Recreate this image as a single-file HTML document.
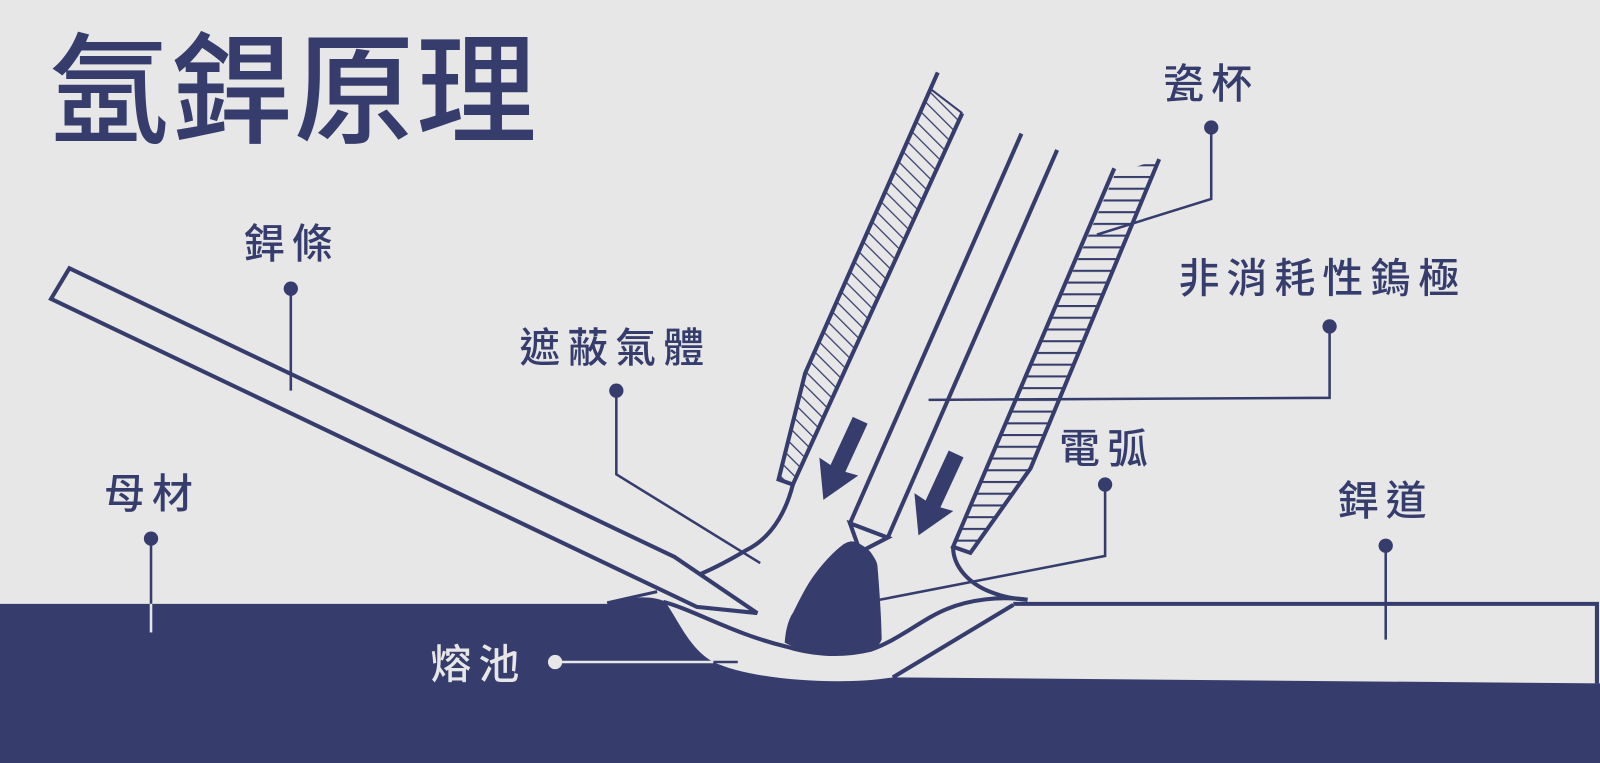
<!DOCTYPE html>
<html><head><meta charset="utf-8"><style>
html,body{margin:0;padding:0;background:#e7e7e7;}
svg{display:block}
text{font-family:"Liberation Sans","Noto Sans CJK TC",sans-serif;}
</style></head><body>
<svg width="1600" height="763" viewBox="0 0 1568 748" preserveAspectRatio="none" xmlns="http://www.w3.org/2000/svg">
<defs>
<pattern id="hd" patternUnits="userSpaceOnUse" width="10" height="10" patternTransform="rotate(-45)">
<line x1="0" y1="0" x2="0" y2="10" stroke="#363d6c" stroke-width="2.5"/>
</pattern>
<pattern id="hh" patternUnits="userSpaceOnUse" width="20" height="11.5">
<line x1="0" y1="1" x2="20" y2="1" stroke="#363d6c" stroke-width="2"/>
</pattern>
</defs>
<rect width="1568" height="748" fill="#e7e7e7"/>
<text x="48" y="131" font-size="118" font-weight="500" fill="#363d6c" letter-spacing="2">氬銲原理</text>

<path d="M0,592 L595,592 C612,585 640,583 652,590 C667,612 676,636 699,649 C740,668 830,672 875,664 L1568,670 L1568,748 L0,748 Z" fill="#363d6c"/>
<path d="M993,592 L1565,592 L1565,670" fill="none" stroke="#363d6c" stroke-width="4"/>
<line x1="875" y1="664" x2="993" y2="593" stroke="#363d6c" stroke-width="4"/>
<path d="M650,590 C680,598 720,622 771,634 C790,640 820,645 853,637 C880,628 905,606 928,597 C950,588 980,584 1007,588" fill="none" stroke="#363d6c" stroke-width="4"/>
<line x1="595" y1="591" x2="644" y2="580" stroke="#363d6c" stroke-width="3"/>

<path d="M50,293 L68,263 L661,546 L742,601 L683,595 Z" fill="#e7e7e7" stroke="#363d6c" stroke-width="4" stroke-linejoin="miter"/>

<path d="M913,88 L943,111 L777,475 L763,470 L789,366 Z" fill="url(#hd)"/>
<path d="M919,71 L789,366 L763,470 L777,475 L943,111" fill="none" stroke="#363d6c" stroke-width="4"/>
<line x1="913" y1="88" x2="943" y2="111" stroke="#363d6c" stroke-width="2"/>
<path d="M777,475 C772,495 760,525 732,539 C712,551 700,557 686,563" fill="none" stroke="#363d6c" stroke-width="4"/>

<path d="M1093,170 L1136,156 L1010,459 L951,542 L934,536 Z" fill="url(#hh)"/>
<path d="M1092,165 L934,536 L951,542 L1010,459 L1136,156" fill="none" stroke="#363d6c" stroke-width="4"/>
<path d="M934,536 C934,556 950,572 970,580 C985,586 995,587 1007,588" fill="none" stroke="#363d6c" stroke-width="4"/>

<line x1="1001" y1="131" x2="833" y2="513" stroke="#363d6c" stroke-width="4"/>
<line x1="1036" y1="147" x2="870" y2="527" stroke="#363d6c" stroke-width="4"/>
<path d="M833,513 L870,527 L843,541 Z" fill="#e7e7e7" stroke="#363d6c" stroke-width="4" stroke-linejoin="miter"/>

<path d="M769,630 C770,615 774,605 777,601 C785,585 790,575 797,565 C808,550 818,540 826,534 C832,530 836,530 840,532 C847,535 852,540 853,541 C858,548 860,552 860,556 C862,580 864,610 864,627 C862,632 858,636 853,637 C840,641 825,642 813,642 C795,640 780,636 769,630 Z" fill="#363d6c"/>

<polygon points="0,-8 52,-8 50,-21 86,0 50,21 52,8 0,8" fill="#363d6c" transform="translate(843,412) rotate(114.8)"/>
<polygon points="0,-8 54,-8 52,-21 88,0 52,21 54,8 0,8" fill="#363d6c" transform="translate(937,445) rotate(114.8)"/>

<g stroke="#363d6c" stroke-width="2.5" fill="none">
<polyline points="1187,125 1187,195 1075,230"/>
<polyline points="1303,320 1303,390 910,392"/>
<polyline points="1083,475 1083,545 862,588"/>
<line x1="1358" y1="535" x2="1358" y2="627"/>
<polyline points="604,383 604,465 745,552"/>
<line x1="285" y1="283" x2="285" y2="383"/>
<line x1="148" y1="528" x2="148" y2="592"/>
<line x1="699" y1="649" x2="723" y2="649"/>
</g>
<g stroke="#e7e7e7" stroke-width="2.5">
<line x1="148" y1="592" x2="148" y2="620"/>
<line x1="544" y1="649" x2="699" y2="649"/>
</g>
<g fill="#363d6c">
<circle cx="1187" cy="125" r="7"/>
<circle cx="1303" cy="320" r="7"/>
<circle cx="1083" cy="475" r="7"/>
<circle cx="1358" cy="535" r="7"/>
<circle cx="604" cy="383" r="7"/>
<circle cx="285" cy="283" r="7"/>
<circle cx="148" cy="528" r="7"/>
</g>
<circle cx="544" cy="649" r="7" fill="#e7e7e7"/>

<g font-size="40" font-weight="500" fill="#363d6c" letter-spacing="7">
<text x="1140" y="96">瓷杯</text>
<text x="1155" y="287">非消耗性鎢極</text>
<text x="1038" y="454">電弧</text>
<text x="1311" y="505">銲道</text>
<text x="509" y="355">遮蔽氣體</text>
<text x="239" y="253">銲條</text>
<text x="102" y="498">母材</text>
<text x="422" y="665" fill="#e7e7e7">熔池</text>
</g>
</svg>
</body></html>
